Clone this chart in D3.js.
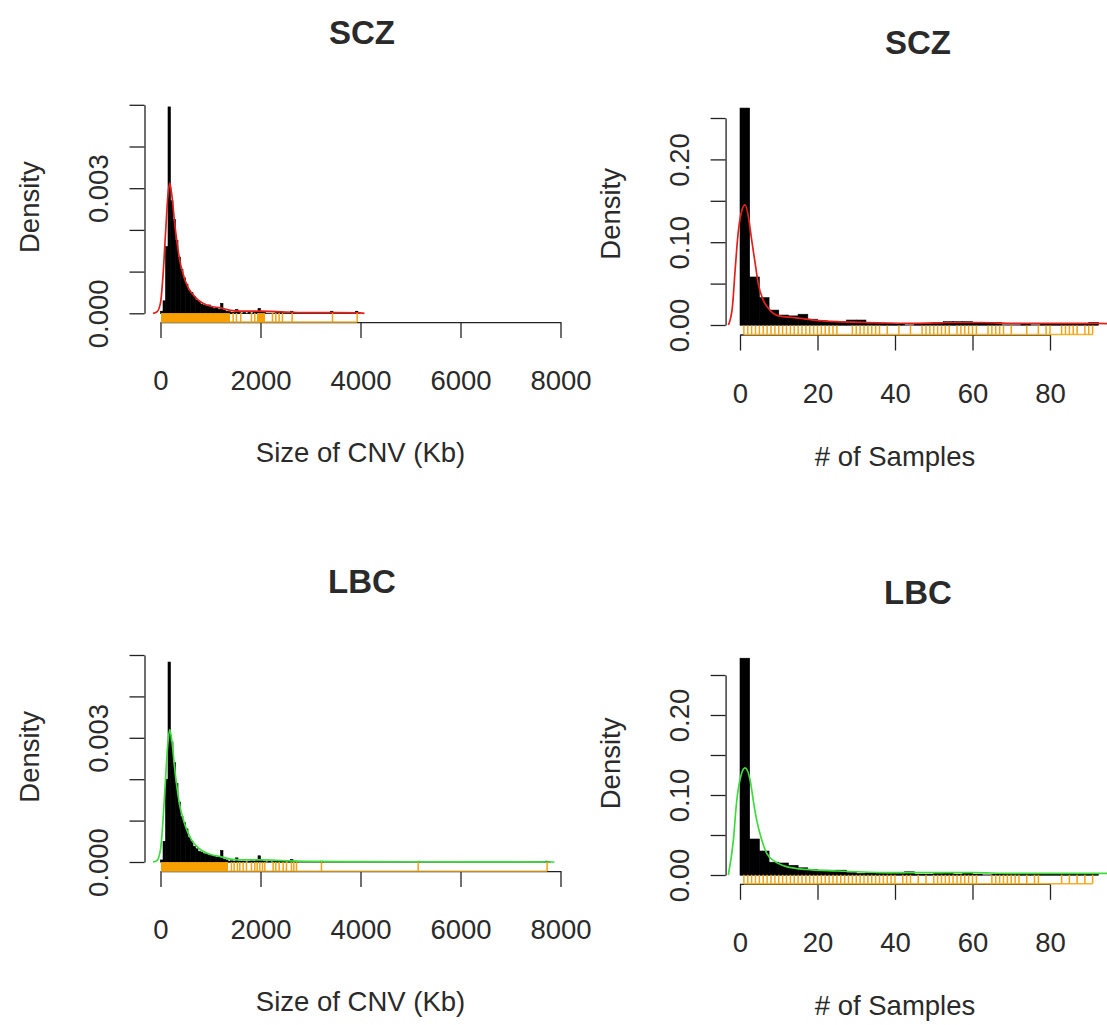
<!DOCTYPE html>
<html>
<head>
<meta charset="utf-8">
<script src="https://d3js.org/d3.v7.min.js"></script>
<title>CNV density histograms</title>
<style>
  body { margin: 0; background: #fff; }
  text { font-family: "Liberation Sans", Arial, sans-serif; fill: #2a2a2a; }
</style>
</head>
<body>
<div id="chart"></div>
<script>

// ---- data ----------------------------------------------------------------

// Size of CNV (Kb): histogram bins of 50 Kb from 0, density in units of 1e-3
let sizeBinWidth = 50;
let sczSizeDensity = [
  0.05, 0.3, 1.6, 4.95, 2.7, 2.25, 1.75, 1.35, 1.05, 0.85,
  0.7, 0.55, 0.5, 0.4, 0.32, 0.28, 0.22, 0.2, 0.18, 0.2,
  0.15, 0.12, 0.14, 0.1, 0.24, 0.08, 0.05, 0.04, 0.02, 0.02,
  0.09, 0.02, 0, 0.02, 0, 0.02, 0, 0.02, 0.03, 0.12,
  0.05, 0.02, 0, 0, 0, 0, 0.02, 0.02, 0.04, 0,
  0, 0, 0.05, 0, 0, 0, 0, 0, 0, 0,
  0, 0, 0, 0, 0, 0, 0, 0, 0.05, 0,
  0, 0, 0, 0, 0, 0, 0, 0, 0.05, 0
];
let lbcSizeDensity = [
  0.05, 0.5, 2.0, 4.83, 2.9, 2.4, 1.9, 1.45, 1.1, 0.95,
  0.8, 0.6, 0.5, 0.38, 0.32, 0.26, 0.24, 0.2, 0.2, 0.17,
  0.16, 0.14, 0.12, 0.12, 0.28, 0.07, 0.05, 0.02, 0.03, 0.02,
  0.1, 0.02, 0.02, 0.02, 0, 0.02, 0.03, 0.02, 0.05, 0.15,
  0.05, 0.02, 0, 0.02, 0, 0.02, 0.02, 0.02, 0.02, 0.02,
  0, 0.02, 0.06, 0.02, 0.02, 0, 0, 0, 0, 0,
  0, 0, 0, 0, 0.02, 0, 0, 0, 0, 0,
  0, 0, 0, 0, 0, 0, 0, 0, 0, 0,
  0, 0, 0, 0, 0, 0, 0, 0, 0, 0,
  0, 0, 0, 0, 0, 0, 0, 0, 0, 0,
  0, 0, 0, 0.02, 0, 0, 0, 0, 0, 0,
  0, 0, 0, 0, 0, 0, 0, 0, 0, 0,
  0, 0, 0, 0, 0, 0, 0, 0, 0, 0,
  0, 0, 0, 0, 0, 0, 0, 0, 0, 0,
  0, 0, 0, 0, 0, 0, 0, 0, 0, 0,
  0, 0, 0, 0, 0.02, 0
];

// kernel density curves (x in Kb, y in 1e-3)
let sczSizeCurveX = [-150, -75, 0, 50, 100, 150, 185, 230, 280, 330, 380, 450, 550, 650, 750, 850, 1000, 1200, 1400, 1600, 2000, 2500, 3000, 3500, 4000, 4080];
let sczSizeCurveY = [0, 0.03, 0.25, 0.9, 1.9, 2.85, 3.12, 2.8, 2.2, 1.7, 1.3, 0.95, 0.62, 0.45, 0.32, 0.24, 0.17, 0.13, 0.07, 0.05, 0.05, 0.03, 0.015, 0.015, 0.01, 0];
let lbcSizeCurveX = [-150, -75, 0, 50, 100, 150, 185, 230, 280, 330, 380, 450, 550, 650, 750, 850, 1000, 1200, 1400, 1600, 2000, 2500, 3000, 4000, 6000, 7880];
let lbcSizeCurveY = [0, 0.03, 0.3, 1.0, 2.0, 2.9, 3.2, 2.9, 2.3, 1.8, 1.4, 1.05, 0.7, 0.48, 0.35, 0.26, 0.18, 0.13, 0.07, 0.05, 0.05, 0.03, 0.015, 0.008, 0.005, 0];

// rug: stretches where ticks merge into a solid band, then single ticks (Kb)
let sczSizeRugBand = [[10, 1390], [1930, 2090]];
let sczSizeRug = [1453, 1519, 1606, 1819, 1886, 2239, 2306, 2373, 2439, 2633, 3440, 3933];
let lbcSizeRugBand = [[10, 1350]];
let lbcSizeRug = [1419, 1473, 1539, 1586, 1653, 1719, 1819, 1886, 1933, 1986, 2039, 2086, 2253, 2306, 2373, 2453, 2519, 2619, 2666, 2719, 3219, 5153, 7733];

// # of samples: bins of 2.5 from 0, density
let samplesBinWidth = 2.5;
let sczSamplesDensity = [
  0.262, 0.058, 0.033, 0.018, 0.012, 0.011, 0.013, 0.007, 0.005, 0.004,
  0.004, 0.006, 0.006, 0.002, 0.002, 0.002, 0.001, 0, 0.001, 0.002,
  0.002, 0.004, 0.004, 0.004, 0.003, 0.003, 0.003, 0, 0, 0.002,
  0, 0.002, 0.001, 0.001, 0.001, 0.001, 0.003
];
let lbcSamplesDensity = [
  0.271, 0.045, 0.03, 0.016, 0.015, 0.012, 0.009, 0.007, 0.006, 0.006,
  0.006, 0.003, 0.002, 0.003, 0.002, 0.002, 0.002, 0.004, 0.001, 0.001,
  0.002, 0.003, 0.001, 0.003, 0.001, 0, 0.001, 0.001, 0.001, 0.001,
  0.001, 0.002, 0.002, 0.001, 0.001, 0.001, 0.001
];

let sczSamplesCurveX = [-3, -2, -1.2, -0.5, 0.3, 1.3, 2.2, 3, 3.9, 4.7, 6, 7.7, 10, 14, 19, 25, 33, 45, 55, 62, 70, 80, 92, 97];
let sczSamplesCurveY = [0, 0.02, 0.07, 0.11, 0.135, 0.145, 0.13, 0.103, 0.075, 0.05, 0.03, 0.018, 0.011, 0.009, 0.006, 0.004, 0.003, 0.002, 0.003, 0.003, 0.002, 0.002, 0.002, 0.001];
let lbcSamplesCurveX = [-3, -1.7, -0.9, 0.4, 1.3, 2.6, 3.4, 4.3, 5.6, 6.9, 9, 12, 17, 25, 38, 50, 60, 70, 80, 97];
let lbcSamplesCurveY = [0, 0.044, 0.09, 0.127, 0.134, 0.119, 0.094, 0.069, 0.044, 0.027, 0.017, 0.0105, 0.007, 0.005, 0.003, 0.003, 0.003, 0.002, 0.002, 0.002];

let sczSamplesRug = [1, 2, 3, 4, 5, 6, 7, 8, 9, 10, 11, 12, 13, 14, 15, 16, 17, 18, 19, 20, 21, 22, 23, 24, 25,
  29, 30, 31, 32, 33, 34, 35, 36, 38, 41, 44, 47, 48, 49, 50, 51, 52, 53, 54, 56, 57, 58, 59, 60, 61,
  64, 65, 66, 67, 68, 70, 74, 77, 79, 80, 83, 84, 85, 86, 87, 89, 90, 91];
let lbcSamplesRug = [1, 2, 3, 4, 5, 6, 7, 8, 9, 10, 11, 12, 13, 14, 15, 16, 17, 18, 19, 20, 21, 22, 23, 24, 25,
  26, 27, 28, 29, 30, 31, 32, 33, 34, 35, 36, 37, 38, 39, 40, 42, 43, 44, 46, 48, 50, 51, 52, 53, 54,
  55, 56, 57, 58, 59, 60, 61, 65, 66, 67, 68, 69, 70, 71, 72, 74, 76, 77, 83, 85, 87, 89, 91];

// axis ticks and labels
let sizeTicks = [0, 2000, 4000, 6000, 8000];
let samplesTicks = [0, 20, 40, 60, 80];
let sizeDensityTicks = [0, 1, 2, 3, 4, 5];
let sizeDensityLabels = ["0.000", "", "", "0.003", "", ""];
let samplesDensityTicks = [0, 0.05, 0.1, 0.15, 0.2, 0.25];
let samplesDensityLabels = ["0.00", "", "0.10", "", "0.20", ""];

// ---- layout --------------------------------------------------------------

let svg = d3.select("#chart").append("svg")
  .attr("width", 1107).attr("height", 1025);

let panels = [
  { id: "a", title: "SCZ", tx: 362, ty: 44, lineColor: "#e3211c",
    bins: sczSizeDensity, binWidth: sizeBinWidth, cx: sczSizeCurveX, cy: sczSizeCurveY,
    rug: sczSizeRug, rugBand: sczSizeRugBand,
    xDomain: [0, 8000], xRange: [160.5, 560.5], xLim: [-320, 8320], xTicks: sizeTicks,
    yDomain: [0, 5], yRange: [313.3, 104.8], yLim: [-0.21, 5.3],
    yTicks: sizeDensityTicks, yLabels: sizeDensityLabels,
    xTitle: "Size of CNV (Kb)", xTitleOff: 140 },
  { id: "b", title: "SCZ", tx: 918, ty: 54, lineColor: "#e3211c",
    bins: sczSamplesDensity, binWidth: samplesBinWidth, cx: sczSamplesCurveX, cy: sczSamplesCurveY,
    rug: sczSamplesRug, rugBand: [],
    xDomain: [0, 80], xRange: [740, 1050], xLim: [-3.72, 96.72], xTicks: samplesTicks,
    yDomain: [0, 0.25], yRange: [325, 118], yLim: [-0.0115, 0.28],
    yTicks: samplesDensityTicks, yLabels: samplesDensityLabels,
    xTitle: "# of Samples", xTitleOff: 131 },
  { id: "c", title: "LBC", tx: 362, ty: 593, lineColor: "#3ddc3d",
    bins: lbcSizeDensity, binWidth: sizeBinWidth, cx: lbcSizeCurveX, cy: lbcSizeCurveY,
    rug: lbcSizeRug, rugBand: lbcSizeRugBand,
    xDomain: [0, 8000], xRange: [160.5, 560.5], xLim: [-320, 8320], xTicks: sizeTicks,
    yDomain: [0, 5], yRange: [862, 655], yLim: [-0.22, 5.3],
    yTicks: sizeDensityTicks, yLabels: sizeDensityLabels,
    xTitle: "Size of CNV (Kb)", xTitleOff: 140 },
  { id: "d", title: "LBC", tx: 918, ty: 604, lineColor: "#3ddc3d",
    bins: lbcSamplesDensity, binWidth: samplesBinWidth, cx: lbcSamplesCurveX, cy: lbcSamplesCurveY,
    rug: lbcSamplesRug, rugBand: [],
    xDomain: [0, 80], xRange: [740, 1050], xLim: [-3.72, 96.72], xTicks: samplesTicks,
    yDomain: [0, 0.25], yRange: [875, 675], yLim: [-0.011, 0.29],
    yTicks: samplesDensityTicks, yLabels: samplesDensityLabels,
    xTitle: "# of Samples", xTitleOff: 131 }
];

function styleAxis(sel) {
  sel.attr("font-size", null).attr("font-family", null).attr("color", "#222");
  sel.selectAll("path, line").attr("stroke-width", 1.3);
  sel.selectAll("text").style("font-size", "27.5px");
}

panels.forEach(function (p) {
  let x = d3.scaleLinear().domain(p.xDomain).range(p.xRange);
  let y = d3.scaleLinear().domain(p.yDomain).range(p.yRange);
  let left = x(p.xLim[0]), right = x(p.xLim[1]);
  let axisY = y(p.yLim[0]), top = y(p.yLim[1]);

  svg.append("clipPath").attr("id", "clip-" + p.id)
    .append("rect")
    .attr("x", left).attr("y", top)
    .attr("width", right - left).attr("height", axisY - top);

  let g = svg.append("g");
  let plot = g.append("g").attr("clip-path", "url(#clip-" + p.id + ")");

  // histogram bars
  plot.selectAll("rect.bar")
    .data(p.bins)
    .join("rect")
    .attr("class", "bar")
    .attr("x", (d, i) => x(i * p.binWidth))
    .attr("width", x(p.binWidth) - x(0))
    .attr("y", d => y(d))
    .attr("height", d => y(0) - y(d))
    .attr("fill", "#000")
    .attr("stroke", "#000")
    .attr("stroke-width", 0.6);

  // empty bins still leave a line on zero
  plot.append("line")
    .attr("x1", x(0)).attr("x2", x(p.bins.length * p.binWidth))
    .attr("y1", y(0)).attr("y2", y(0))
    .attr("stroke", "#000").attr("stroke-width", 1);

  // density curve
  plot.append("path")
    .datum(d3.zip(p.cx, p.cy))
    .attr("d", d3.line().x(d => x(d[0])).y(d => y(d[1])).curve(d3.curveMonotoneX))
    .attr("fill", "none")
    .attr("stroke", p.lineColor)
    .attr("stroke-width", 1.7);

  // x axis
  let xa = g.append("g")
    .attr("transform", "translate(0," + axisY + ")")
    .call(d3.axisBottom(x).tickValues(p.xTicks).tickSize(16).tickSizeOuter(0).tickFormat(d3.format("d")));
  styleAxis(xa);
  xa.selectAll("text").attr("y", 68).attr("dy", null);

  // y axis, labels turned like R does
  let ya = g.append("g")
    .attr("transform", "translate(" + left + ",0)")
    .call(d3.axisLeft(y).tickValues(p.yTicks).tickSize(15).tickSizeOuter(0)
      .tickFormat((d, i) => p.yLabels[i]));
  styleAxis(ya);
  ya.selectAll("text")
    .attr("x", null).attr("dy", null)
    .attr("text-anchor", "middle")
    .attr("transform", "translate(-37,0) rotate(-90)");

  // rug (line between extremes plus ticks)
  let rugMin = d3.min([d3.min(p.rug), d3.min(p.rugBand, b => b[0])]);
  let rugMax = d3.max([d3.max(p.rug), d3.max(p.rugBand, b => b[1])]);
  let rug = g.append("g");
  rug.append("line")
    .attr("x1", x(rugMin)).attr("x2", x(rugMax))
    .attr("y1", axisY).attr("y2", axisY)
    .attr("stroke", "#f2b230").attr("stroke-width", 1.4);
  rug.selectAll("rect")
    .data(p.rugBand)
    .join("rect")
    .attr("x", d => x(d[0]))
    .attr("width", d => x(d[1]) - x(d[0]))
    .attr("y", axisY - 9).attr("height", 9)
    .attr("fill", "#f7a000");
  rug.selectAll("line.tick")
    .data(p.rug)
    .join("line")
    .attr("class", "tick")
    .attr("x1", d => x(d)).attr("x2", d => x(d))
    .attr("y1", axisY).attr("y2", axisY - 9)
    .attr("stroke", "#f2a414").attr("stroke-width", 1.5);

  // titles
  g.append("text")
    .attr("x", p.tx).attr("y", p.ty)
    .attr("text-anchor", "middle")
    .style("font-size", "33px").style("font-weight", "bold")
    .text(p.title);

  g.append("text")
    .attr("x", (p.xRange[0] + p.xRange[1]) / 2)
    .attr("y", axisY + p.xTitleOff)
    .attr("text-anchor", "middle")
    .style("font-size", "27.5px")
    .text(p.xTitle);

  g.append("text")
    .attr("transform", "translate(" + (left - 106) + "," + ((axisY + top) / 2) + ") rotate(-90)")
    .attr("text-anchor", "middle")
    .style("font-size", "27.5px")
    .text("Density");
});

</script>
</body>
</html>
